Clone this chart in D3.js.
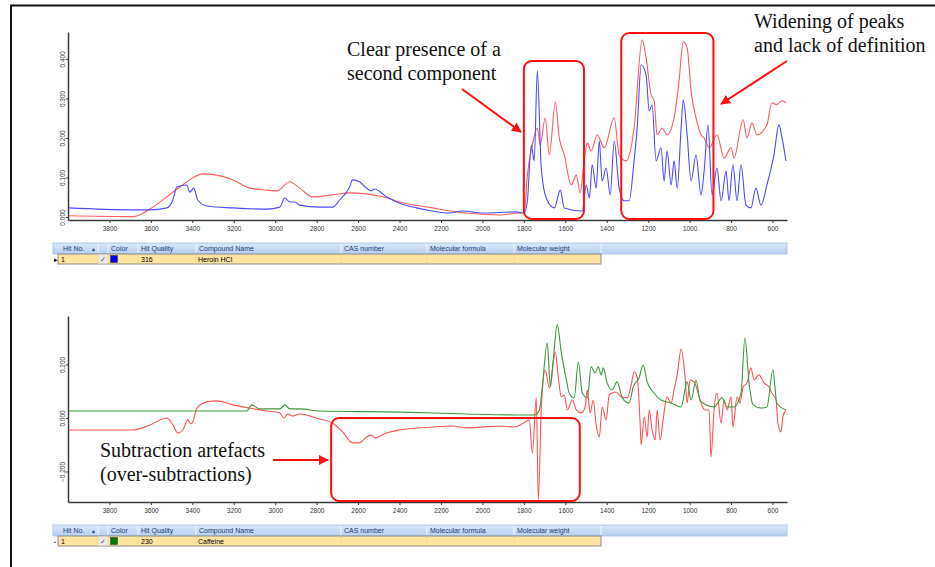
<!DOCTYPE html>
<meta charset="utf-8">
<title>Spectrum search and subtraction</title>
<style>
body { margin: 0; background: #fff; }
.axis text { font: 6.5px "Liberation Sans", sans-serif; fill: #333; }
.axis path, .axis line { stroke: #3a3a3a; }
.axis path { stroke-width: 1.5px; }
.note { font: 20px "Liberation Serif", serif; fill: #111; }
.grid text { font: 7px "Liberation Sans", sans-serif; }
.grid .hdr text { fill: #1d3a7a; }
.spec { fill: none; stroke-width: 1.1px; stroke-linejoin: round; }
</style>
<svg width="935" height="567"></svg>
<script src="https://d3js.org/d3.v7.min.js"></script>
<script>

// wavenumber ticks (cm-1)
var xTicks = [3800, 3600, 3400, 3200, 3000, 2800, 2600, 2400, 2200, 2000, 1800, 1600, 1400, 1200, 1000, 800, 600];
var topYTicks = [0, 0.1, 0.2, 0.3, 0.4];
var botYTicks = [-0.2, 0, 0.2];

// top panel: unknown sample (red) and library hit heroin HCl (blue), [wavenumber, absorbance]
var sampleSpectrum = [
  [4000,0.003],[3687,0.001],[3605,0.020],[3523,0.051],[3460,0.076],[3398,0.099],[3349,0.109],[3282,0.106],
  [3205,0.094],[3123,0.073],[3041,0.068],[2993,0.066],[2930,0.089],[2882,0.073],[2819,0.051],[2723,0.056],
  [2641,0.061],[2482,0.051],[2400,0.038],[2241,0.023],[2077,0.010],[1918,0.005],[1822,0.010],[1798,0.010],
  [1783,0.106],[1759,0.182],[1735,0.225],[1721,0.182],[1697,0.251],[1677,0.157],[1648,0.291],[1629,0.200],
  [1605,0.157],[1571,0.081],[1547,0.106],[1528,0.061],[1509,0.142],[1494,0.187],[1475,0.167],[1446,0.208],
  [1412,0.175],[1364,0.251],[1340,0.157],[1306,0.142],[1268,0.225],[1229,0.448],[1210,0.403],[1186,0.309],
  [1171,0.294],[1157,0.208],[1133,0.225],[1109,0.208],[1075,0.251],[1051,0.344],[1031,0.443],[1012,0.428],
  [993,0.319],[969,0.251],[945,0.208],[930,0.200],[906,0.175],[868,0.208],[834,0.149],[800,0.175],
  [786,0.149],[742,0.246],[723,0.200],[699,0.238],[675,0.208],[627,0.233],[603,0.289],[579,0.284],
  [554,0.294],[535,0.289]
];
var heroinSpectrum = [
  [4000,0.023],[3687,0.018],[3605,0.018],[3523,0.023],[3494,0.043],[3475,0.076],[3427,0.081],[3412,0.063],
  [3393,0.073],[3374,0.043],[3330,0.028],[3205,0.023],[3041,0.020],[2978,0.025],[2954,0.048],[2930,0.038],
  [2906,0.038],[2882,0.030],[2786,0.025],[2723,0.025],[2689,0.043],[2641,0.076],[2627,0.094],[2593,0.089],
  [2559,0.073],[2535,0.066],[2521,0.071],[2463,0.051],[2400,0.035],[2318,0.023],[2241,0.015],[2159,0.010],
  [2096,0.015],[2000,0.010],[1836,0.013],[1798,0.010],[1783,0.041],[1764,0.182],[1750,0.142],[1735,0.370],
  [1716,0.124],[1692,0.048],[1653,0.023],[1624,0.068],[1605,0.023],[1518,0.015],[1499,0.081],[1484,0.048],
  [1470,0.132],[1451,0.073],[1436,0.192],[1422,0.091],[1403,0.124],[1383,0.056],[1364,0.192],[1340,0.073],
  [1316,0.041],[1292,0.041],[1268,0.142],[1253,0.225],[1234,0.385],[1210,0.359],[1195,0.268],[1181,0.284],
  [1162,0.142],[1138,0.175],[1123,0.091],[1109,0.167],[1089,0.081],[1075,0.142],[1060,0.073],[1041,0.225],
  [1031,0.296],[1012,0.208],[993,0.091],[969,0.157],[945,0.056],[930,0.116],[911,0.233],[892,0.056],
  [868,0.124],[848,0.041],[824,0.116],[810,0.041],[791,0.132],[771,0.041],[752,0.132],[728,0.030],
  [704,0.023],[680,0.073],[656,0.030],[627,0.081],[593,0.157],[569,0.233],[554,0.200],[535,0.142]
];

// bottom panel: residual after subtraction (red) and library hit caffeine (green)
var residualSpectrum = [
  [4000,-0.045],[3687,-0.045],[3605,-0.026],[3523,0.000],[3494,-0.026],[3470,-0.056],[3446,-0.045],[3422,-0.007],
  [3407,-0.022],[3398,-0.015],[3378,0.037],[3330,0.060],[3282,0.064],[3205,0.049],[3123,0.037],[3041,0.026],
  [2978,0.019],[2959,0.000],[2940,0.015],[2916,0.007],[2882,0.015],[2786,-0.004],[2723,-0.019],[2675,-0.052],
  [2627,-0.093],[2593,-0.093],[2559,-0.071],[2535,-0.064],[2521,-0.075],[2463,-0.056],[2400,-0.045],[2241,-0.034],
  [2145,-0.030],[2077,-0.037],[2000,-0.034],[1918,-0.030],[1846,-0.034],[1807,-0.022],[1774,-0.007],[1759,-0.131],
  [1740,0.075],[1730,-0.307],[1716,0.030],[1697,0.179],[1677,0.112],[1648,0.247],[1634,0.153],[1619,0.079],
  [1605,0.086],[1590,0.030],[1566,0.067],[1547,0.030],[1523,0.019],[1504,0.041],[1494,0.105],[1480,0.019],
  [1465,0.067],[1451,-0.026],[1436,-0.071],[1422,0.041],[1403,-0.007],[1388,0.086],[1374,0.093],[1354,0.097],
  [1330,0.079],[1301,0.075],[1282,0.123],[1268,0.172],[1253,0.153],[1239,-0.019],[1234,-0.101],[1219,0.004],
  [1205,-0.071],[1195,0.030],[1181,-0.045],[1166,-0.082],[1157,0.030],[1142,-0.082],[1128,-0.007],[1109,0.079],
  [1089,0.056],[1075,0.105],[1060,0.161],[1041,0.258],[1022,0.153],[1012,0.056],[998,0.142],[978,0.135],
  [959,0.093],[945,0.056],[925,0.030],[906,0.030],[897,-0.146],[882,0.030],[868,0.093],[848,-0.019],
  [834,0.067],[819,0.030],[800,0.079],[791,-0.034],[771,0.079],[757,0.056],[742,0.116],[723,0.131],
  [704,0.187],[689,0.142],[665,0.161],[641,0.131],[617,0.116],[603,0.093],[583,0.067],[574,-0.019],
  [559,-0.052],[550,0.004],[535,0.030]
];
var caffeineSpectrum = [
  [4000,0.026],[3137,0.026],[3113,0.049],[3075,0.034],[2978,0.034],[2954,0.049],[2930,0.034],[2882,0.034],
  [2786,0.026],[2400,0.022],[2077,0.015],[1788,0.011],[1750,0.011],[1725,0.030],[1711,0.116],[1687,0.280],
  [1672,0.116],[1658,0.217],[1639,0.348],[1619,0.243],[1595,0.142],[1581,0.093],[1557,0.075],[1537,0.209],
  [1518,0.093],[1494,0.075],[1475,0.191],[1456,0.168],[1441,0.191],[1427,0.161],[1417,0.187],[1398,0.131],
  [1374,0.105],[1350,0.135],[1325,0.075],[1292,0.056],[1272,0.116],[1244,0.150],[1224,0.198],[1205,0.135],
  [1176,0.097],[1138,0.067],[1089,0.056],[1041,0.041],[1012,0.135],[993,0.067],[969,0.142],[950,0.067],
  [921,0.049],[882,0.041],[844,0.075],[819,0.041],[786,0.041],[752,0.093],[733,0.299],[713,0.131],
  [694,0.049],[656,0.037],[627,0.041],[598,0.179],[579,0.056],[535,0.030]
];

// hit list tables
var columns = ["Hit No.", "", "Color", "Hit Quality", "Compound Name", "CAS number", "Molecular formula", "Molecular weight"];
var topHit = {no: "1", color: "#0000ee", quality: "316", name: "Heroin HCl"};
var botHit = {no: "1", color: "#007a00", quality: "230", name: "Caffeine"};

var svg = d3.select("svg");

var defs = svg.append("defs");
defs.append("marker")
    .attr("id", "head")
    .attr("viewBox", "0 0 10 10")
    .attr("refX", 9).attr("refY", 5)
    .attr("markerWidth", 5).attr("markerHeight", 5)
    .attr("markerUnits", "strokeWidth")
    .attr("orient", "auto")
  .append("path")
    .attr("d", "M0,0L10,5L0,10z")
    .attr("fill", "#ff1010");
var grad = defs.append("linearGradient").attr("id", "hdr").attr("x1", 0).attr("x2", 0).attr("y1", 0).attr("y2", 1);
grad.append("stop").attr("offset", "0%").attr("stop-color", "#dbe8f8");
grad.append("stop").attr("offset", "100%").attr("stop-color", "#b7cff0");

// slide frame
svg.append("path")
    .attr("d", "M11,567V5.5H935")
    .attr("fill", "none")
    .attr("stroke", "#111")
    .attr("stroke-width", 2);

var x = d3.scaleLinear().domain([4000, 530]).range([68, 787]);

function panel(cfg) {
  var y = d3.scaleLinear().domain(cfg.yDomain).range([cfg.bottom, cfg.top]);
  var g = svg.append("g");

  var line = d3.line()
      .curve(d3.curveMonotoneX)
      .x(function(d) { return x(d[0]); })
      .y(function(d) { return y(d[1]); });

  cfg.series.forEach(function(s) {
    g.append("path")
        .datum(s.data)
        .attr("class", "spec")
        .attr("stroke", s.color)
        .attr("d", line);
  });

  g.append("g")
      .attr("class", "axis")
      .attr("transform", "translate(0," + cfg.bottom + ")")
      .call(d3.axisBottom(x).tickValues(xTicks).tickSize(3).tickSizeOuter(0).tickPadding(3).tickFormat(d3.format("d")));

  var ya = g.append("g")
      .attr("class", "axis")
      .attr("transform", "translate(68,0)")
      .call(d3.axisLeft(y).tickValues(cfg.yTicks).tickSize(2).tickSizeOuter(0).tickFormat(d3.format(".3f")));
  ya.selectAll("text")
      .attr("x", null).attr("dy", null)
      .attr("transform", "translate(-3.5,0) rotate(-90)")
      .style("text-anchor", "middle");
  return y;
}

panel({
  top: 32, bottom: 220, yDomain: [-0.0076, 0.468], yTicks: topYTicks,
  series: [{data: sampleSpectrum, color: "#ff5c5c"}, {data: heroinSpectrum, color: "#4a4aff"}]
});
panel({
  top: 316, bottom: 502, yDomain: [-0.314, 0.381], yTicks: botYTicks,
  series: [{data: residualSpectrum, color: "#ff5252"}, {data: caffeineSpectrum, color: "#3c9a3c"}]
});

// hit list under each spectrum
var edges = [53, 98, 108, 138, 196, 341, 427, 514, 601];
function hitTable(top, hit, marker) {
  var g = svg.append("g").attr("class", "grid");
  var h = g.append("g").attr("class", "hdr");
  h.append("rect")
      .attr("x", 53).attr("y", top).attr("width", 734).attr("height", 11)
      .attr("fill", "url(#hdr)").attr("stroke", "#a6c0e6").attr("stroke-width", 0.8);
  edges.slice(1).forEach(function(e) {
    h.append("line").attr("x1", e).attr("x2", e).attr("y1", top + 1).attr("y2", top + 10)
        .attr("stroke", "#f4f8fd").attr("stroke-width", 1);
  });
  columns.forEach(function(c, i) {
    h.append("text").attr("x", edges[i] + (i == 0 ? 10 : 3)).attr("y", top + 8).text(c);
  });
  h.append("text").attr("x", 91).attr("y", top + 7.5).style("font-size", "5px").attr("fill", "#6f87b3").text("▲");

  g.append("rect")
      .attr("x", 58).attr("y", top + 11).attr("width", 543).attr("height", 10)
      .attr("fill", "#ffe3a0").attr("stroke", "#8c8c8c").attr("stroke-width", 1);
  edges.slice(1, -1).forEach(function(e) {
    g.append("line").attr("x1", e).attr("x2", e).attr("y1", top + 11.5).attr("y2", top + 20.5)
        .attr("stroke", "#f5d58a").attr("stroke-width", 1);
  });
  g.append("rect").attr("x", 98.5).attr("y", top + 11.5).attr("width", 9).attr("height", 9).attr("fill", "#e9e9e9");
  g.append("text").attr("x", 54).attr("y", top + 18.5).style("font-size", marker == "▸" ? "7px" : "5px").text(marker);
  g.append("text").attr("x", 61).attr("y", top + 18.5).text(hit.no);
  g.append("text").attr("x", 100).attr("y", top + 18.5).attr("fill", "#555").text("✓");
  g.append("rect").attr("x", 110.5).attr("y", top + 12.5).attr("width", 7).attr("height", 7).attr("fill", hit.color).attr("stroke", "#333").attr("stroke-width", 0.5);
  g.append("text").attr("x", 141).attr("y", top + 18.5).text(hit.quality);
  g.append("text").attr("x", 198).attr("y", top + 18.5).text(hit.name);
}
hitTable(243, topHit, "▸");
hitTable(525, botHit, "•");

// annotations
var notes = svg.append("g");
function box(w0, w1, y0, y1) {
  notes.append("rect")
      .attr("x", x(w0)).attr("y", y0)
      .attr("width", x(w1) - x(w0)).attr("height", y1 - y0)
      .attr("rx", 8)
      .attr("fill", "none").attr("stroke", "#ff1010").attr("stroke-width", 2);
}
box(1800, 1510, 61, 219);
box(1330, 885, 33, 219);
box(2730, 1530, 418, 501);

function arrow(x1, y1, x2, y2) {
  notes.append("line")
      .attr("x1", x1).attr("y1", y1).attr("x2", x2).attr("y2", y2)
      .attr("stroke", "#ff1010").attr("stroke-width", 2)
      .attr("marker-end", "url(#head)");
}
arrow(462, 89, 521, 132);
arrow(787, 61, 721, 104);
arrow(273, 460, 328, 460);

function label(x0, y0, lines) {
  var t = notes.append("text").attr("class", "note").attr("x", x0).attr("y", y0);
  lines.forEach(function(l, i) {
    t.append("tspan").attr("x", x0).attr("dy", i ? 24 : 0).text(l);
  });
}
label(347, 56, ["Clear presence of a", "second component"]);
label(754, 28, ["Widening of peaks", "and lack of definition"]);
label(100, 457, ["Subtraction artefacts", "(over-subtractions)"]);

</script>
